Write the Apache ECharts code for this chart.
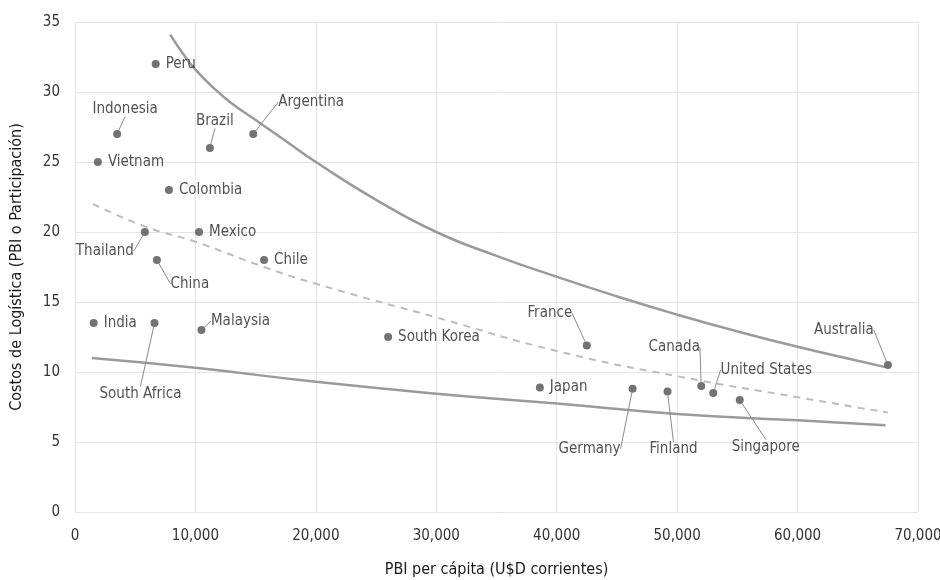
<!DOCTYPE html>
<html>
<head>
<meta charset="utf-8">
<script src="https://cdn.jsdelivr.net/npm/echarts@6/dist/echarts.min.js"></script>
<style>html,body{margin:0;padding:0;background:#fff}#c{width:940px;height:580px}</style>
</head>
<body>
<div id="c"></div>
<script>
const countries = ['Peru','Indonesia','Vietnam','Brazil','Argentina','Colombia','Thailand','Mexico','China','Chile','India','South Africa','Malaysia','South Korea','France','Japan','Germany','Finland','Canada','United States','Singapore','Australia'];
const gdpPerCapita = [6700,3500,1900,11200,14800,7800,5800,10300,6800,15700,1550,6600,10500,26000,42500,38600,46300,49200,52000,53000,55200,67500];
const logisticsCost = [32,27,25,26,27,23,20,20,18,18,13.5,13.5,13,12.5,11.9,8.9,8.8,8.6,9.0,8.5,8.0,10.5];

const upperX = [7900,9000,10000,11500,13000,15000,17500,20000,25000,30000,35000,40000,45000,50000,55000,60000,65000,67300];
const upperY = [34.1,32.7,31.6,30.3,29.2,28.0,26.5,25.0,22.3,20.0,18.3,16.8,15.4,14.1,12.9,11.8,10.8,10.35];
const lowerX = [1400,10000,20000,30000,40000,50000,60000,67300];
const lowerY = [11.0,10.3,9.3,8.45,7.75,7.0,6.55,6.2];
const dashX = [1500,5800,10000,15700,20000,30000,40000,50000,60000,67500];
const dashY = [22.0,20.4,19.3,17.5,16.3,13.9,11.5,9.7,8.2,7.1];

const xTicks = [0,10000,20000,30000,40000,50000,60000,70000];
const yTicks = [0,5,10,15,20,25,30,35];

// label placement (offset of label centre from point, px) for labels with leader lines
const leader = {
  'Indonesia':[8,-25],'Brazil':[5,-27],'Argentina':[58,-32],'Thailand':[-40,19],
  'China':[33,24],'South Africa':[-14,71],'Malaysia':[39,-9],'France':[-37,-32],
  'Germany':[-43,60],'Finland':[6,58],'Canada':[-27,-39],'United States':[53,-23],
  'Singapore':[26,47],'Australia':[-44,-35]
};

const FONT = "'Liberation Sans Narrow','DejaVu Sans Condensed','Arial Narrow',sans-serif";

const scatterData = countries.map((c,i)=>{
  const item = {name:c, value:[gdpPerCapita[i], logisticsCost[i]]};
  if (leader[c]) {
    item.label = {position:'inside'};
    item.labelLine = {show:true};
  }
  return item;
});

const chart = echarts.init(document.getElementById('c'), null, {renderer:'canvas'});
chart.setOption({
  backgroundColor:'#fff',
  animation:false,
  grid:{left:75,right:22,top:22,bottom:68,containLabel:false,outerBoundsMode:'none'},
  xAxis:{
    type:'value',min:0,max:70000,interval:10000,
    name:'PBI per cápita (U$D corrientes)',nameLocation:'middle',nameGap:50,
    nameTextStyle:{fontFamily:FONT,fontSize:16,color:'#1a1a1a'},
    axisLine:{show:false},axisTick:{show:false},
    axisLabel:{fontFamily:FONT,fontSize:15,color:'#333',margin:17,
      formatter:v=>xTicks.includes(v)?v.toLocaleString('en-US'):''},
    splitLine:{show:true,lineStyle:{color:'#e4e4e4',width:1}}
  },
  yAxis:{
    type:'value',min:0,max:35,interval:5,
    name:'Costos de Logística (PBI o Participación)',nameLocation:'middle',nameGap:50,
    nameTextStyle:{fontFamily:FONT,fontSize:16,color:'#1a1a1a'},
    axisLine:{show:false},axisTick:{show:false},
    axisLabel:{fontFamily:FONT,fontSize:15,color:'#333',margin:15,
      formatter:v=>yTicks.includes(v)?String(v):''},
    splitLine:{show:true,lineStyle:{color:'#e4e4e4',width:1}}
  },
  series:[
    {type:'line',smooth:0.5,showSymbol:false,silent:true,
      data:upperX.map((x,i)=>[x,upperY[i]]),
      lineStyle:{color:'#9a9a9a',width:2.5},z:2},
    {type:'line',smooth:0.5,showSymbol:false,silent:true,
      data:lowerX.map((x,i)=>[x,lowerY[i]]),
      lineStyle:{color:'#9a9a9a',width:2.5},z:2},
    {type:'line',smooth:0.5,showSymbol:false,silent:true,
      data:dashX.map((x,i)=>[x,dashY[i]]),
      lineStyle:{color:'#bdbdbd',width:2,type:[7,6]},z:2},
    {type:'scatter',symbolSize:8,z:5,
      itemStyle:{color:'#505050'},
      data:scatterData,
      label:{show:true,position:'right',distance:6,formatter:'{b}',
        fontFamily:FONT,fontSize:15,color:'#262626'},
      labelLine:{show:false,lineStyle:{color:'#8a8a8a',width:1}},
      labelLayout:function(p){
        const c = countries[p.dataIndex];
        if (leader[c]) return {dx:leader[c][0],dy:leader[c][1]};
        return {};
      }
    }
  ]
});
</script>
</body>
</html>
